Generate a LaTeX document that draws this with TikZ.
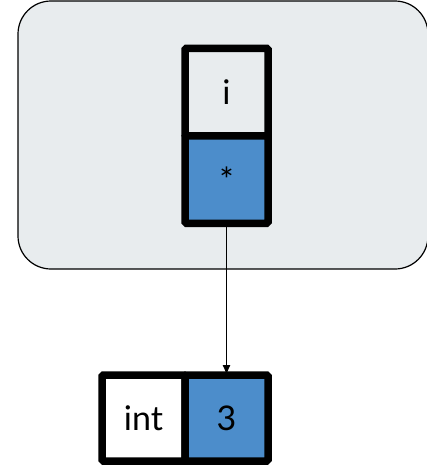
\documentclass[tikz,border=0pt]{standalone}
\usepackage{fontspec}
\setmainfont{Lato}
\usepackage{xcolor}
\usepackage{tikz}
\usetikzlibrary{positioning,arrows.meta}
\definecolor{framegray}{HTML}{E8ECEE}
\definecolor{cellblue}{HTML}{4C8DCB}
\tikzset{
    cell/.style={draw, line width=7.5pt, rounded corners=1.5pt, minimum width=83pt, minimum height=87.5pt, inner sep=0pt, outer sep=0pt, font=\fontsize{34}{40}\selectfont},
}

\begin{document}
\begin{tikzpicture}[x=1pt, y=1pt]
    \useasboundingbox (0,0) rectangle (427,-466);
    \node[draw, fill=framegray, line width=1.2pt, rounded corners=33pt, minimum width=410pt, minimum height=268pt, outer sep=0pt] (stackframe) at (223,-135) {};
    \node[cell, fill=framegray] (ivar) at (226.5,-92) {i};
    \node[cell, fill=cellblue, below=0pt of ivar] (iptr) {*};
    \node[cell, fill=white, minimum height=86pt] (inttype) at (143.5,-418) {int};
    \node[cell, fill=cellblue, minimum height=86pt, right=0pt of inttype] (intval) {3};
    \draw[-{Latex[length=10pt, width=8pt]}, line width=1.2pt] (iptr.south) -- (iptr.south |- intval.north);
\end{tikzpicture}
\end{document}
